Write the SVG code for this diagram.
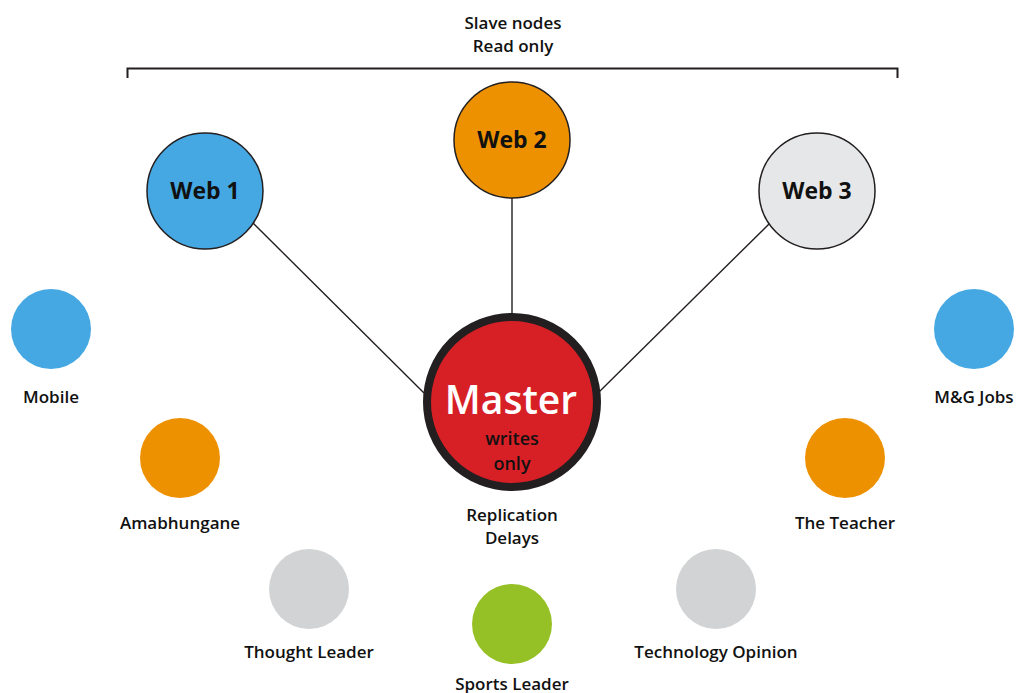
<svg xmlns="http://www.w3.org/2000/svg" width="1016" height="693" viewBox="0 0 1016 693">
<style>
text{font-family:"Open Sans","Noto Sans",sans-serif;text-anchor:middle;fill:#111}
.lbl{font-size:17px;font-weight:600}
.web{font-size:23px;font-weight:700}
.big{stroke:#231f20;stroke-width:1.5}
.blue{fill:#45a8e3}.orange{fill:#ee9100}.gray{fill:#d1d3d4}.green{fill:#95c127}
.conn{stroke:#231f20;stroke-width:1.4;fill:none}
</style>
<rect width="1016" height="693" fill="#fff"/>
<g id="header">
<text class="lbl" x="513" y="29">Slave nodes</text>
<text class="lbl" x="513" y="52">Read only</text>
<path d="M127.5,78 V68.5 H897.5 V78" fill="none" stroke="#231f20" stroke-width="2"/>
</g>
<g id="connectors">
<line class="conn" x1="253" y1="223" x2="424" y2="393"/>
<line class="conn" x1="512" y1="198" x2="512" y2="314"/>
<line class="conn" x1="771" y1="222" x2="598" y2="393"/>
</g>
<g id="web1"><circle class="big blue" cx="205" cy="191" r="58"/><text class="web" x="205" y="199">Web 1</text></g>
<g id="web2"><circle class="big orange" cx="512" cy="140" r="58"/><text class="web" x="512" y="148">Web 2</text></g>
<g id="web3"><circle class="big" fill="#e6e7e8" cx="817" cy="191" r="58"/><text class="web" x="817" y="199">Web 3</text></g>
<g id="master">
<circle cx="512" cy="402" r="85" fill="#d71f26" stroke="#231f20" stroke-width="8"/>
<text x="511" y="414" style="font-size:39px;font-weight:600;fill:#fff">Master</text>
<text x="512" y="445" style="font-size:18px;font-weight:600">writes</text>
<text x="512" y="470" style="font-size:18px;font-weight:600">only</text>
</g>
<g id="replication"><text class="lbl" x="512" y="521">Replication</text><text class="lbl" x="512" y="544">Delays</text></g>
<g id="mobile"><circle class="blue" cx="51" cy="329" r="40"/><text class="lbl" x="51" y="403">Mobile</text></g>
<g id="amabhungane"><circle class="orange" cx="180" cy="458" r="40"/><text class="lbl" x="180" y="529">Amabhungane</text></g>
<g id="thought-leader"><circle class="gray" cx="309" cy="589" r="40"/><text class="lbl" x="309" y="658">Thought Leader</text></g>
<g id="sports-leader"><circle class="green" cx="512" cy="624" r="40"/><text class="lbl" x="512" y="690">Sports Leader</text></g>
<g id="technology-opinion"><circle class="gray" cx="716" cy="589" r="40"/><text class="lbl" x="716" y="658">Technology Opinion</text></g>
<g id="the-teacher"><circle class="orange" cx="845" cy="458" r="40"/><text class="lbl" x="845" y="529">The Teacher</text></g>
<g id="mg-jobs"><circle class="blue" cx="974" cy="329" r="40"/><text class="lbl" x="974" y="403">M&amp;G Jobs</text></g>
</svg>
